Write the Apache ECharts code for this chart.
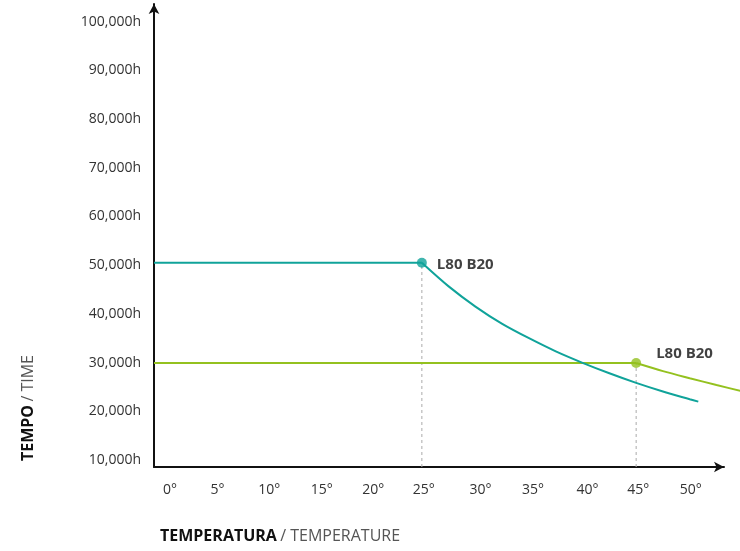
<!DOCTYPE html>
<html>
<head>
<meta charset="utf-8">
<script src="https://cdn.jsdelivr.net/npm/echarts@6/dist/echarts.min.js"></script>
<style>html,body{margin:0;padding:0;background:#fff}#c{width:740px;height:551px}</style>
</head>
<body>
<div id="c"></div>
<script>
// ---- data ----
const xTicks = [0, 5, 10, 15, 20, 25, 30, 35, 40, 45, 50];
const yTicks = [10000, 20000, 30000, 40000, 50000, 60000, 70000, 80000, 90000, 100000];
const tealFlatX = [0, 25];
const tealFlatY = [50500, 50500];
const tealCurveX = [25, 27.5, 30, 32.5, 35, 37.5, 40, 42.5, 45, 47.5, 50, 50.8];
const tealCurveY = [50500, 45650, 41500, 37950, 35000, 32300, 29950, 27800, 25830, 24060, 22480, 21980];
const greenFlatX = [0, 45];
const greenFlatY = [29900, 29900];
const greenCurveX = [45, 47.5, 50, 52.5, 55];
const greenCurveY = [29900, 28250, 26800, 25400, 24050];
const pointX = [25, 45];
const pointY = [50500, 29900];
const pointLabels = ['L80 B20', 'L80 B20'];
const xMin = 0, xMax = 53.2, yMin = 8560, yMax = 103630;

const TEAL = '#10a39a', GREEN = '#94c11f';
const FONT = 'Open Sans';
const zip = (a, b) => a.map((v, i) => [v, b[i]]);
// small horizontal nudges of the x tick labels (px), to match the reference
const labelShift = { 0: 16, 5: 10, 10: 8, 15: 7, 20: 5, 25: 2, 30: 5, 35: 4, 40: 5, 45: 2, 50: 1 };
const rich = {};
Object.keys(labelShift).forEach(k => {
  rich['s' + k] = { padding: [0, 0, 0, labelShift[k] * 2], color: '#333', fontSize: 14, fontFamily: FONT };
});

const GRID = { left: 154, right: 16, top: 4, bottom: 84 };
const grid2Right = 0;
const xMax2 = xMax * (740 - GRID.left - grid2Right) / (740 - GRID.left - GRID.right);

const chart = echarts.init(document.getElementById('c'));
chart.setOption({
  animation: false,
  textStyle: { fontFamily: FONT },
  grid: [
    Object.assign({ containLabel: false }, GRID),
    { left: GRID.left, right: grid2Right, top: GRID.top, bottom: GRID.bottom, containLabel: false }
  ],
  xAxis: [{
    type: 'value', min: xMin, max: xMax, gridIndex: 0,
    axisLine: { show: true, onZero: false, lineStyle: { color: '#111', width: 2 }, symbol: ['none', 'arrow'], symbolSize: [8, 10] },
    axisTick: { show: false },
    splitLine: { show: false },
    axisLabel: {
      customValues: xTicks, margin: 16, color: '#333', fontSize: 14, fontFamily: FONT,
      formatter: v => '{s' + v + '|' + v + '°}',
      rich: rich
    }
  }, {
    type: 'value', min: xMin, max: xMax2, gridIndex: 1, show: false
  }],
  yAxis: [{
    type: 'value', min: yMin, max: yMax, gridIndex: 0,
    axisLine: { show: true, onZero: false, lineStyle: { color: '#111', width: 2 }, symbol: ['none', 'arrow'], symbolSize: [8, 10] },
    axisTick: { show: false },
    splitLine: { show: false },
    axisLabel: {
      customValues: yTicks, margin: 13, color: '#333', fontSize: 14, fontFamily: FONT,
      formatter: v => v.toLocaleString('en-US') + 'h'
    }
  }, {
    type: 'value', min: yMin, max: yMax, gridIndex: 1, show: false
  }],
  graphic: [
    {
      type: 'text', left: 160, top: 528,
      style: {
        text: '{b|TEMPERATURA} {n|/ TEMPERATURE}',
        rich: {
          b: { fontWeight: 'bold', fontSize: 16, fill: '#111', fontFamily: FONT },
          n: { fontSize: 16, fill: '#555', fontFamily: FONT }
        }
      }
    },
    {
      type: 'text', x: 28, y: 408, rotation: Math.PI / 2,
      style: {
        text: '{b|TEMPO} {n|/ TIME}', align: 'center', verticalAlign: 'middle',
        rich: {
          b: { fontWeight: 'bold', fontSize: 16, fill: '#111', fontFamily: FONT },
          n: { fontSize: 16, fill: '#555', fontFamily: FONT }
        }
      }
    }
  ],
  series: [
    { type: 'line', data: [[pointX[0], yMin], [pointX[0], pointY[0]]], symbol: 'none', lineStyle: { color: '#aaa', width: 1, type: [3, 3] }, z: 1 },
    { type: 'line', data: [[pointX[1], yMin], [pointX[1], pointY[1]]], symbol: 'none', lineStyle: { color: '#aaa', width: 1, type: [3, 3] }, z: 1 },
    { type: 'line', data: zip(tealFlatX, tealFlatY), symbol: 'none', lineStyle: { color: TEAL, width: 2 }, z: 3 },
    { type: 'line', data: zip(tealCurveX, tealCurveY), symbol: 'none', smooth: 0.3, lineStyle: { color: TEAL, width: 2 }, z: 3 },
    { type: 'line', data: zip(greenFlatX, greenFlatY), symbol: 'none', lineStyle: { color: GREEN, width: 2 }, z: 2 },
    { type: 'line', xAxisIndex: 1, yAxisIndex: 1, data: zip(greenCurveX, greenCurveY), symbol: 'none', smooth: 0.3, lineStyle: { color: GREEN, width: 2 }, z: 2 },
    {
      type: 'scatter', symbolSize: 10, z: 5,
      data: [
        { value: [pointX[0], pointY[0]], itemStyle: { color: TEAL },
          label: { show: true, formatter: pointLabels[0], position: 'right', distance: 10, offset: [0, 2] } },
        { value: [pointX[1], pointY[1]], itemStyle: { color: GREEN },
          label: { show: true, formatter: pointLabels[1], position: 'right', distance: 15, offset: [0, -9] } }
      ],
      label: { color: '#111', fontWeight: 'bold', fontSize: 15, fontFamily: FONT }
    }
  ]
});
</script>
</body>
</html>
